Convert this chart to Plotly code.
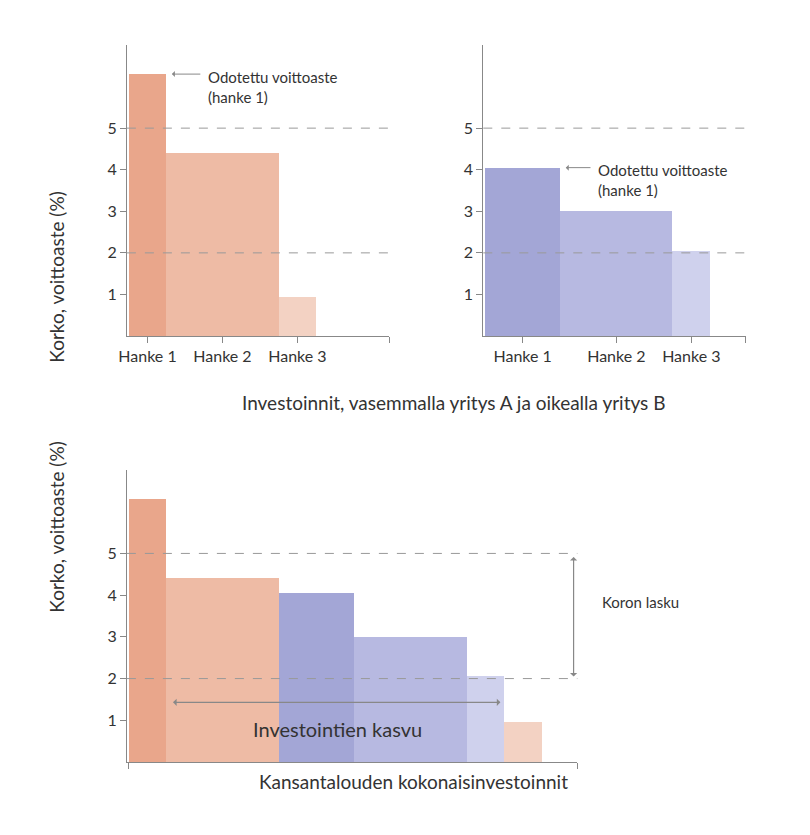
import numpy as np
import plotly.graph_objects as go

# Company A projects
a_labels = ["Hanke 1", "Hanke 2", "Hanke 3"]
a_rates = [6.3, 4.4, 0.95]
a_sizes = [1, 3, 1]
a_colors = ["#e9a68b", "#eebba5", "#f3d2c3"]

# Company B projects
b_labels = ["Hanke 1", "Hanke 2", "Hanke 3"]
b_rates = [4.05, 3.0, 2.05]
b_sizes = [2, 3, 1]
b_colors = ["#a3a6d6", "#b7b9e1", "#cfd1ed"]

# economy-wide ordering (by rate)
eco_rates = [6.3, 4.4, 4.05, 3.0, 2.05, 0.95]
eco_sizes = [1, 3, 2, 3, 1, 1]
eco_colors = ["#e9a68b", "#eebba5", "#a3a6d6", "#b7b9e1", "#cfd1ed", "#f3d2c3"]

interest_high = 5
interest_low = 2
yticks = [1, 2, 3, 4, 5]

FONT = "Lato"
GREY = "#888888"
W, H = 802, 827  # page has an 8px body margin


def px(x):
    return (x - 8) / W


def py(y):
    return 1 - (y - 8) / H


fig = go.Figure()


def add_bars(sizes, rates, colors, xa, ya):
    left = np.concatenate([[0], np.cumsum(sizes)[:-1]]) + 0.05
    fig.add_trace(go.Bar(
        x=left + np.array(sizes) / 2, y=rates, width=sizes,
        marker=dict(color=colors, line=dict(width=0)),
        xaxis=xa, yaxis=ya, showlegend=False, hoverinfo="y"
    ))
    return left


la = add_bars(a_sizes, a_rates, a_colors, "x", "y")
lb = add_bars(b_sizes, b_rates, b_colors, "x2", "y2")
add_bars(eco_sizes, eco_rates, eco_colors, "x3", "y3")

axis_common = dict(showgrid=False, zeroline=False, showline=True, linecolor=GREY,
                   ticks="outside", tickcolor=GREY, ticklen=6,
                   tickfont=dict(family=FONT, size=16, color="#333"))

ca = la + np.array(a_sizes) / 2
cb = lb + np.array(b_sizes) / 2
fig.update_layout(
    width=W, height=H, margin=dict(l=0, r=0, t=0, b=0),
    plot_bgcolor="white", paper_bgcolor="white", bargap=0,
    font=dict(family=FONT, color="#333"),
    xaxis=dict(domain=[px(120), px(385)], range=[0, 7], anchor="y",
               tickvals=list(ca) + [7], ticktext=a_labels + [""], **axis_common),
    yaxis=dict(domain=[py(336), py(45)], range=[0, 7], anchor="x",
               tickvals=yticks, **axis_common),
    xaxis2=dict(domain=[px(480), px(745)], range=[0, 7], anchor="y2",
                tickvals=list(cb) + [7], ticktext=b_labels + [""], **axis_common),
    yaxis2=dict(domain=[py(336), py(45)], range=[0, 7], anchor="x2",
                tickvals=yticks, **axis_common),
    xaxis3=dict(domain=[px(120), px(575)], range=[0, 12], anchor="y3",
                tickvals=[0.05, 12], ticktext=["", ""], **axis_common),
    yaxis3=dict(domain=[py(762), py(470)], range=[0, 7], anchor="x3",
                tickvals=yticks, **axis_common),
)

dash = dict(color="#999999", width=1, dash="dash")
for xr, yr in [("x", "y"), ("x2", "y2"), ("x3", "y3")]:
    for lvl in [interest_high, interest_low]:
        fig.add_shape(type="line", xref=f"{xr} domain", yref=yr, x0=0, x1=1,
                      y0=lvl, y1=lvl, line=dash, layer="above")

ann = []
# expected return arrows
for xr, yr, bar_right, rate, tx in [("x", "y", la[0] + a_sizes[0], a_rates[0], 2.3),
                                     ("x2", "y2", lb[0] + b_sizes[0], b_rates[0], 3.2)]:
    ann.append(dict(xref=xr, yref=yr, x=bar_right + 0.15, y=rate, ax=tx - 0.3, ay=rate,
                    axref=xr, ayref=yr, text="", showarrow=True, arrowhead=1,
                    arrowwidth=1, arrowcolor=GREY))
    ann.append(dict(xref=xr, yref=yr, x=tx - 0.2, y=rate + 0.2, xanchor="left", yanchor="top",
                    text="Odotettu voittoaste<br>(hanke 1)", showarrow=False, align="left",
                    font=dict(size=15)))

# economy-wide arrows
ann.append(dict(xref="x3", yref="y3", x=9.95, y=1.43, ax=1.19, ay=1.43, axref="x3", ayref="y3",
                text="", showarrow=True, arrowhead=1, arrowside="end+start",
                arrowwidth=1.2, arrowcolor=GREY))
ann.append(dict(xref="x3", yref="y3", x=5.6, y=0.8, text="Investointien kasvu",
                showarrow=False, font=dict(size=20)))
ann.append(dict(xref="x3", yref="y3", x=11.9, y=interest_low + 0.05, ax=11.9,
                ay=interest_high - 0.05, axref="x3", ayref="y3", text="", showarrow=True,
                arrowhead=1, arrowside="end+start", arrowwidth=1.2, arrowcolor=GREY))
ann.append(dict(xref="paper", yref="paper", x=px(598), y=py(613), xanchor="left",
                text="Koron lasku", showarrow=False, font=dict(size=15)))

# axis titles
for ytitle in [py(190), py(615)]:
    ann.append(dict(xref="paper", yref="paper", x=px(35), y=ytitle, text="Korko, voittoaste (%)",
                    textangle=-90, showarrow=False, font=dict(size=19)))
ann.append(dict(xref="paper", yref="paper", x=px(450), y=py(402),
                text="Investoinnit, vasemmalla yritys A ja oikealla yritys B",
                showarrow=False, font=dict(size=19)))
ann.append(dict(xref="paper", yref="paper", x=px(410), y=py(795),
                text="Kansantalouden kokonaisinvestoinnit", showarrow=False, font=dict(size=19)))
fig.update_layout(annotations=ann)

fig.write_html("out.html")
